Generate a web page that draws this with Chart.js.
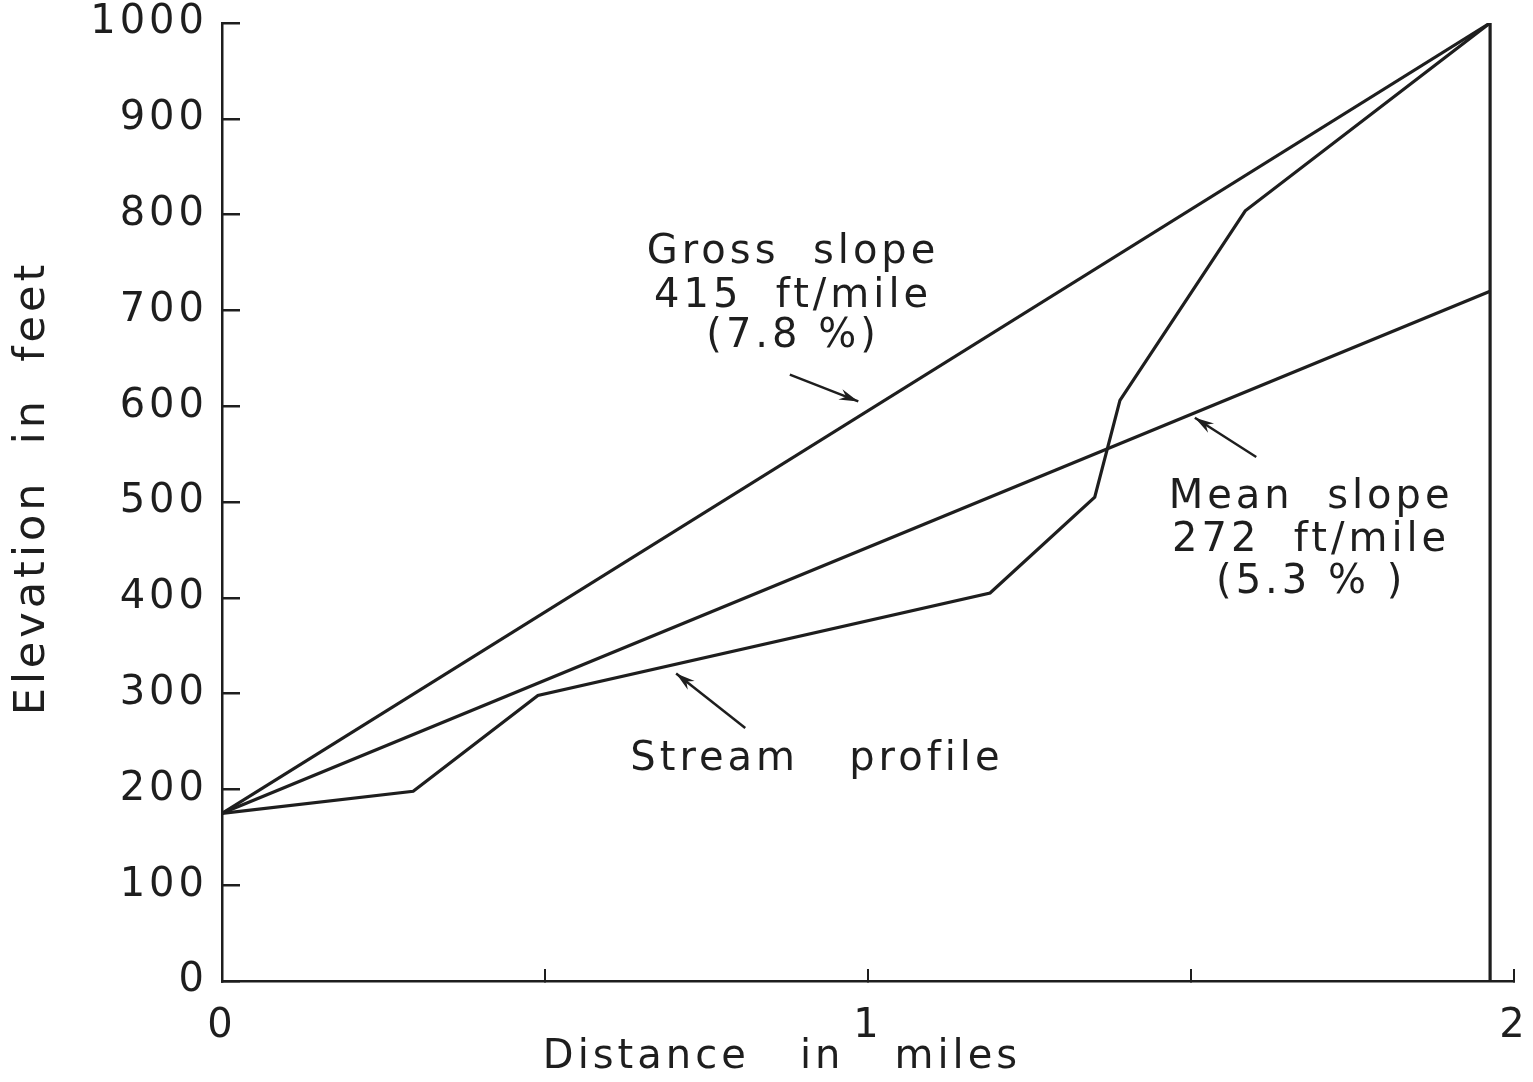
<!DOCTYPE html>
<html>
<head>
<meta charset="utf-8">
<script src="https://cdn.jsdelivr.net/npm/chart.js@4.4.1/dist/chart.umd.min.js"></script>
<style>
  html, body { margin: 0; padding: 0; background: #fff; }
  #wrap { width: 1533px; height: 1082px; position: relative; }
</style>
</head>
<body>
<div id="wrap"><canvas id="profileChart"></canvas></div>
<script>
// stream profile (miles, feet)
const streamX = [0, 0.296, 0.489, 1.189, 1.351, 1.39, 1.584, 1.963];
const streamY = [175, 198, 298, 405, 505, 606, 804, 1000];

// gross slope: straight line from source to mouth
const grossX = [0, 1.963];
const grossY = [175, 1000];

// mean slope line
const meanX = [0, 1.963];
const meanY = [175, 720];

// end of stream (vertical line)
const endX = [1.963, 1.963];
const endY = [1000, 0];

const xTicks = [0, 1, 2];
const yTicks = [0, 100, 200, 300, 400, 500, 600, 700, 800, 900, 1000];

const INK = '#1e1e1e';
const FONT = '"DejaVu Sans", sans-serif';

function pts(xs, ys) {
    return xs.map((x, i) => ({ x: x, y: ys[i] }));
}

function lineSet(label, xs, ys) {
    return {
        label: label,
        data: pts(xs, ys),
        borderColor: INK,
        borderWidth: 3.2,
        pointRadius: 0,
        tension: 0,
        fill: false
    };
}

// text labels and arrows, placed in data units
const notes = [
    { lines: ['Gross  slope', '415  ft/mile', '(7.8 %)'], x: 0.884, y: [760, 714, 673] },
    { lines: ['Mean  slope', '272  ft/mile', '(5.3 % )'], x: 1.686, y: [505, 460, 416] },
    { lines: ['Stream   profile'], x: 0.921, y: [231] }
];
const arrows = [
    { from: [0.879, 633], to: [0.985, 605] },
    { from: [1.601, 547], to: [1.506, 588] },
    { from: [0.810, 264], to: [0.703, 321] }
];

const spacing = {
    id: 'spacing',
    beforeDraw(chart) { chart.ctx.letterSpacing = '4px'; }
};

const notesPlugin = {
    id: 'notes',
    afterDraw(chart) {
        const ctx = chart.ctx;
        const xs = chart.scales.x, ys = chart.scales.y;
        ctx.save();
        ctx.letterSpacing = '4px';
        ctx.fillStyle = INK;
        ctx.strokeStyle = INK;
        ctx.textAlign = 'center';
        ctx.textBaseline = 'middle';
        ctx.font = '40px ' + FONT;
        notes.forEach(n => {
            n.lines.forEach((t, i) => {
                ctx.fillText(t, xs.getPixelForValue(n.x), ys.getPixelForValue(n.y[i]));
            });
        });

        ctx.lineWidth = 2.5;
        arrows.forEach(a => {
            const x1 = xs.getPixelForValue(a.from[0]), y1 = ys.getPixelForValue(a.from[1]);
            const x2 = xs.getPixelForValue(a.to[0]), y2 = ys.getPixelForValue(a.to[1]);
            const ang = Math.atan2(y2 - y1, x2 - x1);
            ctx.beginPath();
            ctx.moveTo(x1, y1);
            ctx.lineTo(x2, y2);
            ctx.stroke();
            const len = 20, wid = 0.28;
            ctx.beginPath();
            ctx.moveTo(x2, y2);
            ctx.lineTo(x2 - len * Math.cos(ang - wid), y2 - len * Math.sin(ang - wid));
            ctx.lineTo(x2 - len * 0.65 * Math.cos(ang), y2 - len * 0.65 * Math.sin(ang));
            ctx.lineTo(x2 - len * Math.cos(ang + wid), y2 - len * Math.sin(ang + wid));
            ctx.closePath();
            ctx.fill();
        });

        // axis titles
        ctx.font = '40px ' + FONT;
        ctx.fillText('Distance   in   miles', 782, 1058);
        ctx.translate(33, 488);
        ctx.rotate(-Math.PI / 2);
        ctx.font = '43px ' + FONT;
        ctx.fillText('Elevation  in  feet', 0, 0);
        ctx.restore();
    }
};

new Chart(document.getElementById('profileChart'), {
    type: 'line',
    data: {
        datasets: [
            lineSet('Stream profile', streamX, streamY),
            lineSet('Gross slope', grossX, grossY),
            lineSet('Mean slope', meanX, meanY),
            lineSet('Stream end', endX, endY)
        ]
    },
    options: {
        responsive: true,
        maintainAspectRatio: false,
        animation: false,
        layout: { padding: { top: 23, right: 19, bottom: 0, left: 0 } },
        plugins: {
            legend: { display: false },
            tooltip: { enabled: false }
        },
        scales: {
            x: {
                type: 'linear',
                min: 0,
                max: 2,
                afterFit: s => {
                    s.height = 101;
                    s.paddingLeft = 0;
                    s.paddingRight = 0;
                },
                afterBuildTicks: s => {
                    s.ticks = [0, 0.5, 1, 1.5, 2].map(v => ({ value: v }));
                },
                border: { display: true, color: INK, width: 2.5 },
                grid: { drawOnChartArea: false, drawTicks: true, tickLength: -12, color: INK, lineWidth: 2 },
                ticks: {
                    autoSkip: false,
                    maxRotation: 0,
                    padding: 38,
                    color: INK,
                    font: { family: FONT, size: 40, lineHeight: 1 },
                    callback: v => xTicks.includes(v) ? String(v) : ''
                }
            },
            y: {
                type: 'linear',
                min: 0,
                max: 1000,
                afterFit: s => {
                    s.width = 222;
                    s.paddingTop = 0;
                    s.paddingBottom = 0;
                },
                afterBuildTicks: s => {
                    s.ticks = yTicks.map(v => ({ value: v }));
                },
                border: { display: true, color: INK, width: 2.5 },
                grid: { drawOnChartArea: false, drawTicks: true, tickLength: -18, color: INK, lineWidth: 2.5 },
                ticks: {
                    autoSkip: false,
                    padding: 32,
                    color: INK,
                    font: { family: FONT, size: 40, lineHeight: 1 },
                    callback: v => String(v)
                }
            }
        }
    },
    plugins: [spacing, notesPlugin]
});
</script>
</body>
</html>
